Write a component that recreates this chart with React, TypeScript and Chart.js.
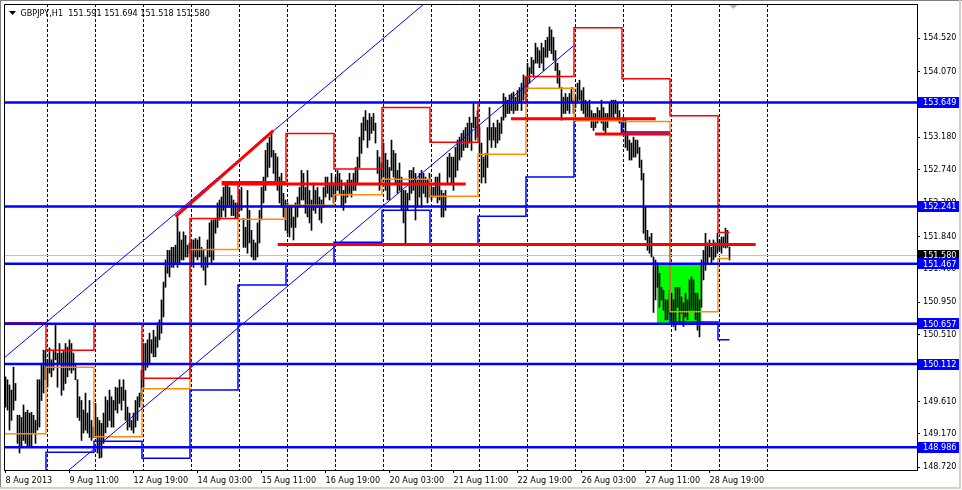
import React, { useEffect, useRef } from 'react';
import { Chart, registerables } from 'chart.js';

Chart.register(...registerables);

const FONT = '"DejaVu Sans Condensed", "Liberation Sans", Arial, sans-serif';

const SYMBOL = 'GBPJPY,H1';
const lastOHLC = [151.591, 151.694, 151.518, 151.58];

// H1 bars, one per hour, bar index 0 = 8 Aug 2013 03:00
const highs = [
  149.94, 149.90, 149.83, 149.76, 150.07, 149.85, 149.42, 149.42, 149.39, 149.56,
  149.46, 149.49, 149.45, 149.46, 149.42, 149.35, 149.90, 149.90, 150.10, 150.30,
  150.30, 150.17, 150.33, 150.17, 150.30, 150.64, 150.26, 150.39, 150.26, 150.30,
  150.39, 150.34, 150.44, 150.39, 150.26, 150.12, 149.90, 149.67, 149.62, 149.49,
  149.72, 149.45, 149.62, 149.35, 149.26, 149.58, 149.39, 149.35, 149.31, 149.45,
  149.67, 149.62, 149.76, 149.67, 149.62, 149.80, 149.79, 149.90, 149.80, 149.90,
  149.76, 149.53, 149.45, 149.35, 149.45, 149.62, 149.67, 149.72, 150.03, 150.39,
  150.39, 150.44, 150.53, 150.44, 150.57, 150.48, 150.67, 150.71, 150.98, 151.22,
  151.52, 151.65, 151.65, 151.69, 151.69, 151.72, 152.10, 151.90, 151.79, 151.90,
  151.85, 151.72, 151.75, 151.79, 151.79, 151.81, 151.79, 151.83, 151.69, 151.65,
  151.56, 151.79, 152.02, 152.06, 152.06, 152.08, 152.29, 152.33, 152.37, 152.50,
  152.56, 152.56, 152.50, 152.39, 152.33, 152.29, 152.29, 152.46, 152.50, 152.08,
  151.96, 152.46, 152.19, 151.92, 151.79, 151.75, 152.02, 152.19, 152.50, 152.64,
  153.00, 153.10, 153.18, 153.23, 153.00, 152.96, 152.91, 152.64, 152.69, 152.42,
  152.33, 152.29, 152.23, 152.23, 152.10, 152.29, 152.37, 152.50, 152.73, 152.69,
  152.50, 152.73, 152.46, 152.33, 152.56, 152.46, 152.50, 152.37, 152.33, 152.50,
  152.64, 152.64, 152.56, 152.69, 152.56, 152.64, 152.73, 152.69, 152.60, 152.46,
  152.56, 152.60, 152.69, 152.60, 152.69, 152.77, 152.91, 153.18, 153.37, 153.45,
  153.54, 153.41, 153.50, 153.45, 153.50, 153.37, 153.00, 152.91, 152.83, 153.10,
  152.96, 152.87, 152.77, 153.14, 153.00, 152.96, 152.73, 152.83, 152.64, 152.46,
  152.46, 152.42, 152.73, 152.73, 152.77, 152.69, 152.60, 152.69, 152.73, 152.69,
  152.64, 152.60, 152.69, 152.50, 152.50, 152.64, 152.64, 152.69, 152.46, 152.42,
  152.46, 152.91, 152.96, 152.91, 152.91, 153.04, 153.14, 153.18, 153.23, 153.27,
  153.31, 153.37, 153.45, 153.37, 153.64, 153.45, 153.54, 153.31, 153.10, 152.91,
  152.96, 153.31, 153.58, 153.31, 153.37, 153.31, 153.41, 153.37, 153.45, 153.77,
  153.72, 153.68, 153.75, 153.77, 153.79, 153.72, 153.81, 153.85, 153.91, 154.02,
  153.99, 154.18, 154.12, 154.26, 154.22, 154.45, 154.39, 154.35, 154.45, 154.39,
  154.49, 154.53, 154.67, 154.63, 154.53, 154.35, 154.18, 154.08, 153.85, 153.72,
  153.77, 153.72, 153.77, 153.85, 153.68, 153.72, 153.91, 153.95, 153.81, 153.85,
  153.68, 153.64, 153.68, 153.54, 153.50, 153.50, 153.58, 153.54, 153.68, 153.58,
  153.50, 153.50, 153.64, 153.68, 153.68, 153.68, 153.64, 153.54, 153.41, 153.45,
  153.41, 153.23, 153.14, 153.10, 153.18, 153.14, 153.14, 153.04, 152.87, 152.69,
  152.23, 151.92, 151.83, 151.88, 151.56, 151.52, 151.48, 151.34, 151.15, 151.11,
  150.98, 150.98, 151.11, 151.07, 150.98, 151.15, 151.15, 151.15, 151.02, 150.94,
  151.07, 150.98, 151.25, 151.29, 151.25, 151.07, 151.07, 150.98, 151.52, 151.65,
  151.88, 151.75, 151.79, 151.69, 151.79, 151.75, 151.88, 151.79, 151.83, 151.83,
  151.95, 151.92, 151.694,
];

const lows = [
  149.53, 149.49, 149.22, 149.35, 149.49, 149.62, 149.04, 148.91, 148.99, 149.08,
  149.04, 148.99, 148.99, 148.99, 149.18, 149.04, 149.22, 149.26, 149.62, 149.72,
  149.90, 149.80, 149.99, 149.94, 150.03, 150.17, 149.80, 150.12, 149.69, 149.76,
  149.85, 149.94, 150.03, 149.99, 150.03, 149.90, 149.39, 149.35, 149.08, 149.18,
  149.22, 149.18, 149.12, 149.08, 149.12, 149.12, 148.91, 148.84, 148.85, 149.04,
  149.18, 149.26, 149.35, 149.26, 149.26, 149.49, 149.45, 149.58, 149.49, 149.62,
  149.35, 149.22, 149.26, 149.22, 149.18, 149.26, 149.35, 149.53, 149.62, 149.80,
  150.03, 150.07, 150.12, 150.26, 150.21, 150.21, 150.34, 150.44, 150.53, 150.75,
  151.15, 151.34, 151.29, 151.42, 151.42, 151.48, 151.42, 151.48, 151.52, 151.52,
  151.56, 151.56, 151.61, 151.45, 151.42, 151.56, 151.52, 151.56, 151.42, 151.38,
  151.18, 151.42, 151.56, 151.48, 151.52, 151.88, 151.96, 152.06, 152.10, 152.19,
  152.10, 152.23, 152.23, 152.12, 152.12, 152.08, 152.10, 152.19, 152.19, 151.69,
  151.69, 151.61, 151.75, 151.56, 151.52, 151.52, 151.56, 151.75, 152.06, 152.29,
  152.46, 152.64, 152.77, 152.91, 152.69, 152.56, 152.46, 152.29, 152.23, 152.10,
  151.92, 151.88, 151.83, 151.96, 151.79, 151.96, 152.10, 152.23, 152.33, 152.33,
  152.15, 152.10, 152.02, 151.92, 152.19, 152.15, 152.23, 152.06, 152.02, 152.23,
  152.37, 152.42, 152.33, 152.37, 152.29, 152.33, 152.46, 152.42, 152.23, 152.19,
  152.29, 152.37, 152.42, 152.37, 152.46, 152.46, 152.56, 152.77, 152.96, 153.14,
  153.27, 153.04, 153.14, 153.23, 153.27, 153.10, 152.69, 152.46, 152.56, 152.64,
  152.46, 152.33, 152.33, 152.73, 152.64, 152.56, 152.42, 152.46, 152.19, 152.02,
  151.75, 152.19, 152.33, 152.42, 152.46, 152.06, 152.23, 152.37, 152.23, 152.42,
  152.37, 152.29, 152.37, 152.33, 152.37, 152.37, 152.29, 152.33, 152.10, 152.10,
  152.19, 152.56, 152.64, 152.56, 152.46, 152.64, 152.73, 152.87, 152.91, 153.00,
  153.04, 153.04, 153.10, 153.00, 153.31, 153.14, 153.18, 152.96, 152.56, 152.64,
  152.56, 152.77, 153.14, 153.04, 153.14, 153.04, 153.10, 153.14, 153.23, 153.41,
  153.45, 153.50, 153.50, 153.54, 153.50, 153.54, 153.54, 153.64, 153.54, 153.68,
  153.77, 153.85, 153.91, 154.04, 153.99, 154.18, 154.18, 154.12, 154.18, 154.08,
  154.26, 154.26, 154.35, 154.31, 154.22, 154.08, 153.91, 153.85, 153.41, 153.50,
  153.50, 153.54, 153.50, 153.64, 153.50, 153.58, 153.64, 153.68, 153.54, 153.50,
  153.45, 153.45, 153.41, 153.31, 153.27, 153.31, 153.37, 153.41, 153.37, 153.27,
  153.23, 153.31, 153.41, 153.45, 153.41, 153.50, 153.41, 153.37, 153.23, 153.31,
  153.04, 153.00, 152.87, 152.87, 152.91, 152.91, 152.96, 152.77, 152.60, 151.88,
  151.79, 151.65, 151.61, 151.56, 150.81, 150.98, 151.15, 150.88, 150.98, 150.84,
  150.71, 150.71, 150.80, 150.67, 150.62, 150.57, 150.88, 150.67, 150.80, 150.62,
  150.75, 150.71, 150.84, 150.84, 150.84, 150.71, 150.57, 150.48, 150.88, 151.25,
  151.38, 151.48, 151.56, 151.48, 151.52, 151.56, 151.61, 151.65, 151.61, 151.69,
  151.68, 151.69, 151.518,
];

const timeLabels = [
  '8 Aug 2013', '9 Aug 11:00', '12 Aug 19:00', '14 Aug 03:00', '15 Aug 11:00', '16 Aug 19:00',
  '20 Aug 03:00', '21 Aug 11:00', '22 Aug 19:00', '26 Aug 03:00', '27 Aug 11:00', '28 Aug 19:00',
];
const timeLabelBars = [0, 32, 64, 96, 128, 160, 192, 224, 256, 288, 320, 352];
const dayStartBars = [21, 45, 69, 93, 117, 141, 165, 189, 213, 237, 261, 285, 309, 333, 357, 381];

// daily levels, one per day segment
const redLevels = [150.67, 150.30, 150.66, 149.92, 152.08, 152.55, 153.23, 152.75, 153.58, 153.11, 153.65, 154.00, 154.66, 153.97, 153.47, 151.89];
const orangeLevels = [149.17, 150.07, 149.13, 149.78, 151.66, 152.07, 152.26, 152.40, 152.61, 152.38, 152.95, 153.84, 153.40, 153.39, 150.82, 151.54];
const blueLevels = [148.50, 148.92, 149.07, 148.84, 149.76, 151.18, 151.46, 151.76, 152.19, 151.72, 152.11, 152.64, 153.41, 153.25, 150.68, 150.44];

const hLevels = [153.649, 152.241, 151.467, 150.657, 150.112, 148.986];
const currentPrice = 151.58;
const yTickValues = [154.52, 154.07, 153.63, 153.18, 152.74, 152.30, 151.84, 151.40, 150.95, 150.51, 150.06, 149.61, 149.17, 148.72];

// trend lines: [bar, price] pairs
const channelUpper = [[-0.75, 150.194], [209.25, 154.98]];
const channelLower = [[31.75, 148.68], [283.9, 154.412]];
const redTrend = [[85, 152.104], [133.9, 153.267]];
// horizontal red segments: [fromBar, toBar, price]
const redSegments = [
  [108.1, 139.75, 152.567],
  [108.1, 230.1, 152.547],
  [136.1, 375.1, 151.729],
  [252.75, 325.1, 153.428],
  [294.75, 332.25, 153.222],
];
const greenZoneBars = [325.6, 348.1];
const greenZonePrices = [150.657, 151.467];

const X_MIN = -0.75;
const X_MAX = 455.75;
const Y_MIN = 148.68;
const Y_MAX = 154.98;
const STEP_LEAD = 0.75;
const SHIFT_MARKER_BAR = 363.9;

function stepPoints(levels: number[]) {
  const pts: { x: number; y: number }[] = [];
  const lastBar = highs.length - 1;
  for (let k = 0; k < levels.length; k++) {
    const start = k === 0 ? X_MIN : dayStartBars[k - 1] - STEP_LEAD;
    const end = k === levels.length - 1 ? lastBar : dayStartBars[k] - STEP_LEAD;
    pts.push({ x: start, y: levels[k] }, { x: end, y: levels[k] });
  }
  return pts;
}

function lineDs(data: any[], color: string, width: number, order: number, extra: any = {}) {
  return {
    type: 'line',
    data,
    borderColor: color,
    backgroundColor: color,
    borderWidth: width,
    pointRadius: 0,
    pointHoverRadius: 0,
    fill: false,
    tension: 0,
    order,
    ...extra,
  };
}

const decorPlugin = {
  id: 'decor',
  afterDraw(chart: any) {
    const { ctx, chartArea, scales } = chart;
    const xs = scales.x;
    const ys = scales.y;
    ctx.save();
    // window frame
    ctx.fillStyle = '#808080';
    ctx.fillRect(0, 0, 962, 1);
    ctx.fillRect(0, 0, 1, 488);
    ctx.fillStyle = '#d4d0c8';
    ctx.fillRect(959, 0, 2, 488);
    ctx.fillRect(0, 487, 961, 2);
    // chart frame (left, top)
    ctx.strokeStyle = '#000';
    ctx.lineWidth = 1;
    ctx.beginPath();
    ctx.moveTo(chartArea.left + 0.5, chartArea.bottom);
    ctx.lineTo(chartArea.left + 0.5, chartArea.top + 0.5);
    ctx.lineTo(chartArea.right, chartArea.top + 0.5);
    ctx.stroke();

    // title
    ctx.fillStyle = '#000';
    ctx.beginPath();
    ctx.moveTo(chartArea.left + 5, chartArea.top + 7);
    ctx.lineTo(chartArea.left + 12, chartArea.top + 7);
    ctx.lineTo(chartArea.left + 8.5, chartArea.top + 11);
    ctx.closePath();
    ctx.fill();
    ctx.font = '9px ' + FONT;
    ctx.textBaseline = 'alphabetic';
    ctx.textAlign = 'left';
    ctx.fillText(SYMBOL + '  ' + lastOHLC.map((v) => v.toFixed(3)).join(' '), chartArea.left + 16.5, chartArea.top + 12);

    // chart shift marker
    const sx = xs.getPixelForValue(SHIFT_MARKER_BAR);
    ctx.fillStyle = '#b4b4b4';
    ctx.beginPath();
    ctx.moveTo(sx - 4, chartArea.top + 1);
    ctx.lineTo(sx + 4, chartArea.top + 1);
    ctx.lineTo(sx, chartArea.top + 5);
    ctx.closePath();
    ctx.fill();

    // price boxes on right axis
    const boxX = chartArea.right + 1;
    const boxW = 41;
    const boxH = 11;
    const drawBox = (v: number, bg: string) => {
      const py = ys.getPixelForValue(v);
      ctx.fillStyle = bg;
      ctx.fillRect(boxX, Math.round(py - boxH / 2), boxW, boxH);
      ctx.fillStyle = '#fff';
      ctx.textBaseline = 'middle';
      ctx.fillText(v.toFixed(3), chartArea.right + 6, py + 0.5);
    };
    drawBox(currentPrice, '#000');
    hLevels.forEach((v) => drawBox(v, '#0000ff'));
    ctx.restore();
  },
};

export default function App() {
  const ref = useRef<HTMLCanvasElement | null>(null);

  useEffect(() => {
    if (!ref.current) return;
    const barData = highs.map((h, i) => ({ x: i, y: [lows[i], h] }));
    const full = (v: number) => [{ x: X_MIN, y: v }, { x: X_MAX, y: v }];
    const seg = (pts: number[][]) => pts.map((p) => ({ x: p[0], y: p[1] }));

    const datasets: any[] = [];
    datasets.push(
      lineDs(
        [{ x: greenZoneBars[0], y: greenZonePrices[1] }, { x: greenZoneBars[1], y: greenZonePrices[1] }],
        '#00ff00',
        0,
        100,
        { fill: { value: greenZonePrices[0] }, backgroundColor: '#00ff00' }
      )
    );
    datasets.push(lineDs(full(currentPrice), '#c0c0c0', 1, 90));
    datasets.push({
      type: 'bar',
      data: barData,
      backgroundColor: '#000000',
      borderWidth: 0,
      barThickness: 1,
      order: 80,
    });
    datasets.push(lineDs(stepPoints(blueLevels), '#0000ff', 1.5, 72));
    datasets.push(lineDs(stepPoints(orangeLevels), '#ff8c00', 1.5, 71));
    datasets.push(lineDs(stepPoints(redLevels), '#ff0000', 1.5, 70));
    datasets.push(lineDs(seg(channelUpper), '#0000ff', 1, 60));
    datasets.push(lineDs(seg(channelLower), '#0000ff', 1, 60));
    datasets.push(lineDs(seg(redTrend), '#ff0000', 3, 50));
    redSegments.forEach((s) => {
      datasets.push(lineDs([{ x: s[0], y: s[2] }, { x: s[1], y: s[2] }], '#ff0000', 3, 50));
    });
    hLevels.forEach((v) => datasets.push(lineDs(full(v), '#0000ff', 2.5, 40)));

    const allXTicks = [...timeLabelBars, ...dayStartBars].sort((a, b) => a - b);

    const chart = new Chart(ref.current, {
      type: 'line',
      data: { datasets },
      plugins: [decorPlugin],
      options: {
        animation: false,
        responsive: false,
        maintainAspectRatio: false,
        events: [],
        layout: { padding: { left: 4, top: 4, right: 0, bottom: 0 }, autoPadding: false },
        plugins: { legend: { display: false }, tooltip: { enabled: false } },
        scales: {
          x: {
            type: 'linear',
            position: 'bottom',
            min: X_MIN,
            max: X_MAX,
            offset: false,
            afterBuildTicks: (s: any) => {
              s.ticks = allXTicks.map((v) => ({ value: v }));
            },
            afterFit: (s: any) => {
              s.height = 20;
              s.paddingLeft = 0;
              s.paddingRight = 0;
              s.paddingTop = 0;
              s.paddingBottom = 0;
            },
            grid: {
              offset: false,
              drawOnChartArea: true,
              drawTicks: true,
              tickLength: 3,
              lineWidth: 1,
              color: (c: any) => (c.tick && dayStartBars.includes(c.tick.value) ? '#000000' : 'rgba(0,0,0,0)'),
              tickColor: (c: any) => (c.tick && timeLabelBars.includes(c.tick.value) ? '#000000' : 'rgba(0,0,0,0)'),
            },
            border: { display: true, color: '#000', width: 1, dash: [3, 2] },
            ticks: {
              autoSkip: false,
              maxRotation: 0,
              minRotation: 0,
              align: 'start',
              padding: 2,
              color: '#000',
              font: { family: FONT, size: 9 },
              callback: (v: any) => {
                const k = timeLabelBars.indexOf(Number(v));
                return k >= 0 ? timeLabels[k] : '';
              },
            },
          },
          y: {
            type: 'linear',
            position: 'right',
            min: Y_MIN,
            max: Y_MAX,
            afterBuildTicks: (s: any) => {
              s.ticks = yTickValues.map((v) => ({ value: v }));
            },
            afterFit: (s: any) => {
              s.width = 45;
              s.paddingLeft = 0;
              s.paddingRight = 0;
              s.paddingTop = 0;
              s.paddingBottom = 0;
            },
            grid: {
              drawOnChartArea: false,
              drawTicks: true,
              tickLength: 3,
              color: '#000',
              tickColor: '#000',
            },
            border: { display: true, color: '#000', width: 1 },
            ticks: {
              autoSkip: false,
              padding: 3,
              color: '#000',
              font: { family: FONT, size: 9 },
              callback: (v: any) => Number(v).toFixed(3),
            },
          },
        },
      } as any,
    } as any);
    return () => chart.destroy();
  }, []);

  return (
    <div style={{ position: 'absolute', left: 0, top: 0, width: 962, height: 490, background: '#fff' }}>
      <canvas ref={ref} width={962} height={490} style={{ width: 962, height: 490, display: 'block' }} />
    </div>
  );
}
